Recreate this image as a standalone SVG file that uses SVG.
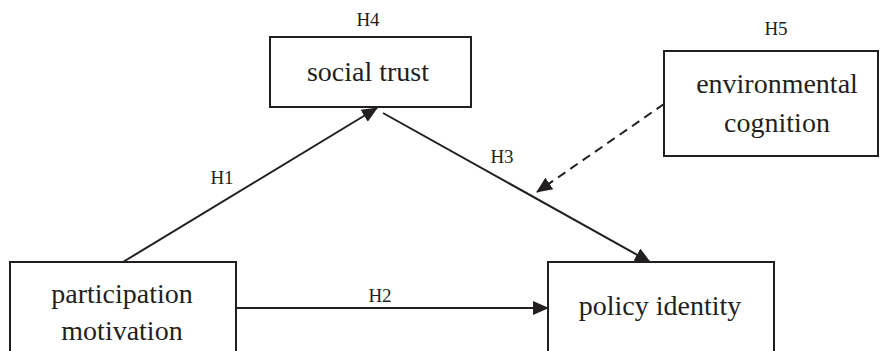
<svg xmlns="http://www.w3.org/2000/svg" width="880" height="351" viewBox="0 0 880 351">
<style>
.box{fill:#fff;stroke:#231f20;stroke-width:2}
.t{font-family:'Liberation Serif','Times New Roman','DejaVu Serif',Times,serif;font-size:28px;fill:#231f20;text-anchor:middle}
.h{font-family:'Liberation Serif','Times New Roman','DejaVu Serif',Times,serif;font-size:19px;fill:#231f20;text-anchor:middle}
.c{stroke:#231f20;stroke-width:2;fill:none}
</style>
<defs>
<marker id="ah" markerWidth="16" markerHeight="14" refX="15" refY="7" orient="auto" markerUnits="userSpaceOnUse">
<path d="M0,0 L16,7 L0,14 Z" fill="#231f20"/>
</marker>
</defs>
<g id="connectors">
<line class="c" x1="123" y1="262" x2="377" y2="108" marker-end="url(#ah)"/>
<line class="c" x1="383" y1="113" x2="650" y2="262" marker-end="url(#ah)"/>
<line class="c" x1="236" y1="308" x2="548" y2="308" marker-end="url(#ah)"/>
<line class="c" x1="664" y1="104" x2="537" y2="192" stroke-dasharray="9,6" marker-end="url(#ah)"/>
<text class="h" x="222" y="184">H1</text>
<text class="h" x="380" y="302">H2</text>
<text class="h" x="502" y="163">H3</text>
</g>
<g id="social-trust">
<rect class="box" x="270" y="37" width="201" height="70"/>
<text class="t" x="368" y="81">social trust</text>
<text class="h" x="368" y="26">H4</text>
</g>
<g id="environmental-cognition">
<rect class="box" x="664" y="51" width="214" height="105"/>
<text class="t" x="777" y="93">environmental</text>
<text class="t" x="777" y="132">cognition</text>
<text class="h" x="776" y="35">H5</text>
</g>
<g id="participation-motivation">
<rect class="box" x="10" y="262" width="226" height="100"/>
<text class="t" x="122" y="303">participation</text>
<text class="t" x="122" y="340">motivation</text>
</g>
<g id="policy-identity">
<rect class="box" x="548" y="262" width="226" height="100"/>
<text class="t" x="660" y="315">policy identity</text>
</g>
</svg>
